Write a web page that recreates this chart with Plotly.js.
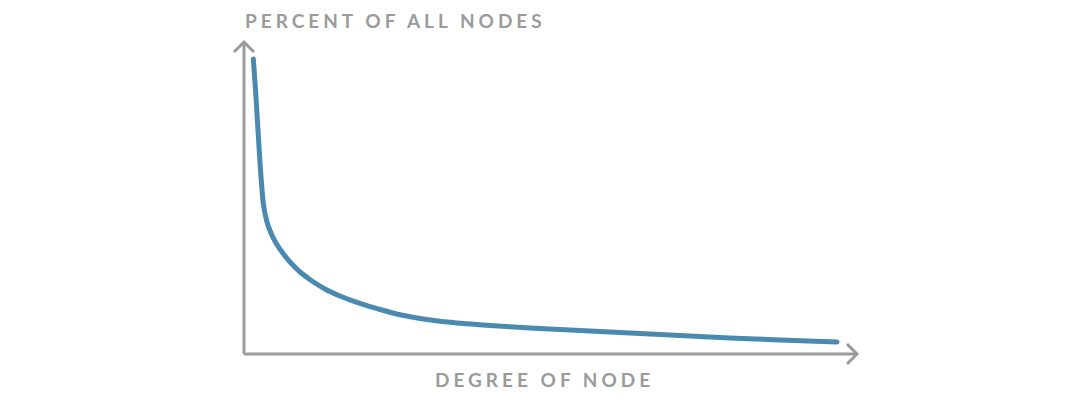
<!DOCTYPE html>
<html>
<head>
<meta charset="utf-8">
<script src="https://cdn.plot.ly/plotly-3.0.1.min.js"></script>
<style>
html,body{margin:0;padding:0;background:#fff;}
#chart{width:1080px;height:404px;}
.annotation-text{letter-spacing:4px;}
.scatterlayer path.js-line{stroke-linecap:round;}
</style>
</head>
<body>
<div id="chart"></div>
<script>
// Degree of node (relative scale 0-100) and percent of all nodes (relative scale 0-100)
const degree  = [1.52, 1.88, 2.28, 2.69, 3.18, 3.75, 4.40, 5.22, 6.20, 7.50, 9.14, 11.09, 13.21, 15.66, 18.92, 22.19, 25.45, 28.71, 33.61, 40.13, 46.66, 54.81, 62.97, 71.13, 79.28, 87.44, 96.74];
const percent = [94.55, 84.62, 71.79, 58.97, 47.76, 42.31, 38.78, 35.58, 32.69, 29.49, 26.28, 23.40, 20.83, 18.59, 16.19, 14.26, 12.56, 11.38, 10.16, 9.13, 8.33, 7.53, 6.73, 5.93, 5.13, 4.49, 3.85];
const xTitle = "DEGREE OF NODE";
const yTitle = "PERCENT OF ALL NODES";

const axisColor = "#9b9b9b";
const W = 1080, H = 404;
const m = {l: 244, r: 223, t: 42, b: 50};
const pw = W - m.l - m.r, ph = H - m.t - m.b;
const ax = 10 / pw, ay = 10 / ph;

const trace = {
  x: degree, y: percent, type: "scatter", mode: "lines",
  line: {color: "#4a8ab0", width: 5, shape: "spline", smoothing: 0.6},
  hoverinfo: "skip"
};

const lineStyle = {color: axisColor, width: 3};
const shapes = [
  {type: "line", xref: "paper", yref: "paper", x0: 0, y0: 0, x1: 1, y1: 0, line: lineStyle},
  {type: "line", xref: "paper", yref: "paper", x0: 0, y0: 0, x1: 0, y1: 1, line: lineStyle},
  {type: "path", xref: "paper", yref: "paper",
   path: `M ${1 - ax} ${ay} L 1 0 L ${1 - ax} ${-ay}`, line: lineStyle},
  {type: "path", xref: "paper", yref: "paper",
   path: `M ${-ax} ${1 - ay} L 0 1 L ${ax} ${1 - ay}`, line: lineStyle}
];

const titleFont = {family: "Lato, sans-serif", size: 19, color: axisColor, weight: 700};
const annotations = [
  {text: yTitle, xref: "paper", yref: "paper", x: -0.002, y: 1, xanchor: "left", yanchor: "bottom",
   yshift: 8, showarrow: false, font: titleFont},
  {text: xTitle, xref: "paper", yref: "paper", x: 0.487, y: 0, xanchor: "center", yanchor: "top",
   yshift: -12, xshift: 2, showarrow: false, font: titleFont}
];

const hidden = {showgrid: false, zeroline: false, showticklabels: false, showline: false, ticks: "", fixedrange: true};
const layout = {
  width: W, height: H,
  margin: m,
  paper_bgcolor: "#fff", plot_bgcolor: "#fff",
  showlegend: false,
  xaxis: Object.assign({range: [0, 100]}, hidden),
  yaxis: Object.assign({range: [0, 100]}, hidden),
  shapes: shapes,
  annotations: annotations
};

Plotly.newPlot("chart", [trace], layout, {displayModeBar: false, staticPlot: true});
</script>
</body>
</html>
